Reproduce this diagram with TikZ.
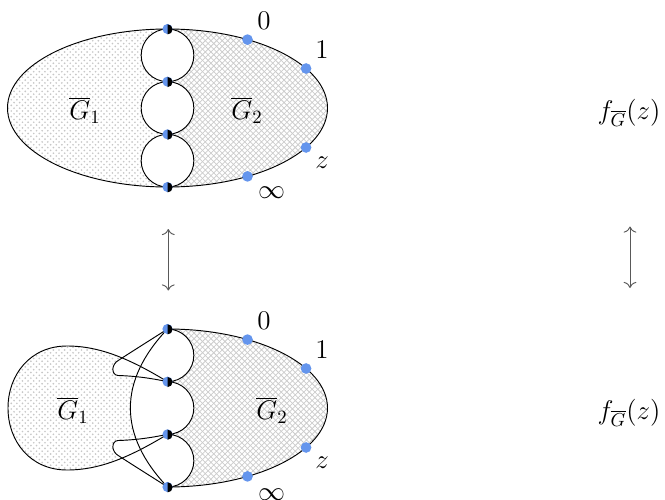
\documentclass[tikz,border=0pt]{standalone}
\usetikzlibrary{patterns,arrows.meta}
\definecolor{dotblue}{RGB}{100,149,237}
\begin{document}
\begin{tikzpicture}[x=0.01875cm,y=0.01875cm,
  lbl/.style={font=\Large, inner sep=0pt},
  gone/.style={pattern=crosshatch dots, pattern color=black!22},
  gtwo/.style={pattern=crosshatch, pattern color=black!20},
  edge/.style={line width=0.5pt},
  bluept/.style={circle, fill=dotblue, inner sep=0pt, minimum size=0.2cm},
  hdot/.style={circle, inner sep=0pt, minimum size=0.19cm, fill=dotblue},
  swap/.style={{To[scale=1.2]}-{To[scale=1.2]}, line width=0.5pt, black!65}
]
\useasboundingbox (0,0) rectangle (665,499);

% ---------------- top figure ----------------
\coordinate (tce) at (167.5,391);
\coordinate (ta) at (167.5,470);
\coordinate (tb) at (167.5,417.33);
\coordinate (tc) at (167.5,364.67);
\coordinate (td) at (167.5,312);

\fill[gone] (ta) arc[start angle=90,end angle=270,x radius=160,y radius=79]
  arc[start angle=270,end angle=90,radius=26.33]
  arc[start angle=270,end angle=90,radius=26.33]
  arc[start angle=270,end angle=90,radius=26.33] -- cycle;
\fill[gtwo] (ta) arc[start angle=90,end angle=-90,x radius=160,y radius=79]
  arc[start angle=-90,end angle=90,radius=26.33]
  arc[start angle=-90,end angle=90,radius=26.33]
  arc[start angle=-90,end angle=90,radius=26.33] -- cycle;

\draw[edge] (tce) ellipse[x radius=160,y radius=79];
\draw[edge] (167.5,443.67) circle[radius=26.33];
\draw[edge] (167.5,391) circle[radius=26.33];
\draw[edge] (167.5,338.33) circle[radius=26.33];

\foreach \p in {ta,tb,tc,td}{
  \node[hdot] (\p m) at (\p) {};
  \fill[black] (\p m.south) arc[start angle=-90,end angle=90,radius=0.095cm] -- cycle;
}

\node[bluept] (t0) at (247.5,459.4) {};
\node[bluept] (t1) at (306.06,430.5) {};
\node[bluept] (tz) at (306.06,351.5) {};
\node[bluept] (ti) at (247.5,322.6) {};

\node[lbl] (t0l) at (264,478) {$0$};
\node[lbl] (t1l) at (322,449) {$1$};
\node[lbl] (tzl) at (322,336) {$z$};
\node[lbl] (til) at (271.5,306) {$\infty$};

\node[lbl] (tg1) at (85,389) {$\overline{G}_1$};
\node[lbl] (tg2) at (247,389) {$\overline{G}_2$};
\node[lbl] (tf) at (629,386) {$f_{\overline{G}}(z)$};

% ---------------- arrows ----------------
\coordinate (la1) at (168.3,270);
\coordinate (la2) at (168.3,208.5);
\coordinate (ra1) at (630,272.5);
\coordinate (ra2) at (630,211);
\draw[swap] (la1) -- (la2);
\draw[swap] (ra1) -- (ra2);

% ---------------- bottom figure ----------------
\coordinate (ba) at (167.5,170);
\coordinate (bb) at (167.5,117.33);
\coordinate (bc) at (167.5,64.67);
\coordinate (bd) at (167.5,12);

\fill[gone] (bb) .. controls (130,140) and (100,153) .. (67,153)
  .. controls (30,153) and (8,124) .. (8,91)
  .. controls (8,58) and (30,29) .. (67,29)
  .. controls (100,29) and (130,42) .. (bc) -- cycle;
\fill[white] (ba) .. controls (118,118) and (118,64) .. (bd) -- cycle;
\fill[white] (ba) .. controls (152,160) and (128,145) .. (119,139)
  .. controls (111,135) and (111,124) .. (118,123.5)
  .. controls (135,123) and (150,121) .. (bb) -- cycle;
\fill[white] (bd) .. controls (152,22) and (128,37) .. (119,43)
  .. controls (111,47) and (111,58) .. (118,58.5)
  .. controls (135,59) and (150,61) .. (bc) -- cycle;

\fill[gtwo] (ba) arc[start angle=90,end angle=-90,x radius=160,y radius=79]
  arc[start angle=-90,end angle=90,radius=26.33]
  arc[start angle=-90,end angle=90,radius=26.33]
  arc[start angle=-90,end angle=90,radius=26.33] -- cycle;

\draw[edge] (ba) arc[start angle=90,end angle=-90,x radius=160,y radius=79];
\draw[edge] (bd) arc[start angle=-90,end angle=90,radius=26.33]
  arc[start angle=-90,end angle=90,radius=26.33]
  arc[start angle=-90,end angle=90,radius=26.33];
\draw[edge] (bb) .. controls (130,140) and (100,153) .. (67,153)
  .. controls (30,153) and (8,124) .. (8,91)
  .. controls (8,58) and (30,29) .. (67,29)
  .. controls (100,29) and (130,42) .. (bc);
\draw[edge] (ba) .. controls (118,118) and (118,64) .. (bd);
\draw[edge] (ba) .. controls (152,160) and (128,145) .. (119,139)
  .. controls (111,135) and (111,124) .. (118,123.5)
  .. controls (135,123) and (150,121) .. (bb);
\draw[edge] (bd) .. controls (152,22) and (128,37) .. (119,43)
  .. controls (111,47) and (111,58) .. (118,58.5)
  .. controls (135,59) and (150,61) .. (bc);

\foreach \p in {ba,bb,bc,bd}{
  \node[hdot] (\p m) at (\p) {};
  \fill[black] (\p m.south) arc[start angle=-90,end angle=90,radius=0.095cm] -- cycle;
}

\node[bluept] (b0) at (247.5,159.4) {};
\node[bluept] (b1) at (306.06,130.5) {};
\node[bluept] (bz) at (306.06,51.5) {};
\node[bluept] (bi) at (247.5,22.6) {};

\node[lbl] (b0l) at (264,178) {$0$};
\node[lbl] (b1l) at (322,149) {$1$};
\node[lbl] (bzl) at (322,36) {$z$};
\node[lbl] (bil) at (271.5,4) {$\infty$};

\node[lbl] (bg1) at (73,89) {$\overline{G}_1$};
\node[lbl] (bg2) at (272,89) {$\overline{G}_2$};
\node[lbl] (bf) at (629,86) {$f_{\overline{G}}(z)$};
\end{tikzpicture}
\end{document}
